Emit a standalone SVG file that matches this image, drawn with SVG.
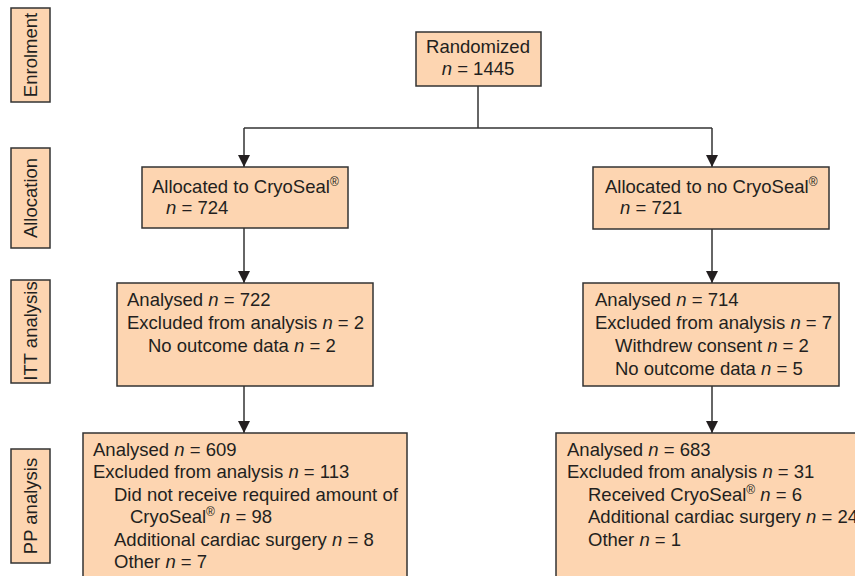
<svg xmlns="http://www.w3.org/2000/svg" width="855" height="576" viewBox="0 0 855 576">
<defs>
<style>
.box{fill:#FDD5B1;stroke:#333;stroke-width:1.5}
.t{font-family:"Liberation Sans",Arial,sans-serif;font-size:18.5px;fill:#231f20}
.i{font-style:italic}
.sup{font-size:12px}
.c{fill:none;stroke:#333;stroke-width:1.5}
</style>
<marker id="ah" markerWidth="12" markerHeight="12" viewBox="0 0 12 12" refX="12" refY="6" orient="auto" markerUnits="userSpaceOnUse">
<path d="M0,0 L12,6 L0,12 Z" fill="#231f20"/>
</marker>
</defs>
<rect width="855" height="576" fill="#fff"/>

<g id="stage-enrolment">
<rect class="box" x="11" y="8" width="39" height="94"/>
<text class="t" transform="translate(37,55) rotate(-90)" text-anchor="middle">Enrolment</text>
</g>
<g id="stage-allocation">
<rect class="box" x="11" y="148" width="39" height="100"/>
<text class="t" transform="translate(37,198) rotate(-90)" text-anchor="middle">Allocation</text>
</g>
<g id="stage-itt">
<rect class="box" x="11" y="280" width="39" height="103"/>
<text class="t" transform="translate(37,331) rotate(-90)" text-anchor="middle">ITT analysis</text>
</g>
<g id="stage-pp">
<rect class="box" x="11" y="449" width="39" height="114"/>
<text class="t" transform="translate(37,506) rotate(-90)" text-anchor="middle">PP analysis</text>
</g>

<g id="connectors">
<path class="c" d="M478,86 V128"/>
<path class="c" d="M244,128 H712"/>
<path class="c" d="M244,128 V167" marker-end="url(#ah)"/>
<path class="c" d="M712,128 V167" marker-end="url(#ah)"/>
<path class="c" d="M244,228 V283" marker-end="url(#ah)"/>
<path class="c" d="M712,229 V283" marker-end="url(#ah)"/>
<path class="c" d="M244,386 V433" marker-end="url(#ah)"/>
<path class="c" d="M712,386 V433" marker-end="url(#ah)"/>
</g>

<g id="randomized">
<rect class="box" x="416" y="32" width="125" height="54"/>
<text class="t" x="478" y="53" text-anchor="middle">Randomized</text>
<text class="t" x="478" y="75" text-anchor="middle"><tspan class="i">n</tspan> = 1445</text>
</g>

<g id="alloc-cryoseal">
<rect class="box" x="142" y="167" width="206" height="61"/>
<text class="t" x="152" y="193">Allocated to CryoSeal<tspan class="sup" dy="-7">®</tspan></text>
<text class="t" x="166" y="214"><tspan class="i">n</tspan> = 724</text>
</g>

<g id="alloc-no-cryoseal">
<rect class="box" x="593" y="167" width="236" height="62"/>
<text class="t" x="605" y="193">Allocated to no CryoSeal<tspan class="sup" dy="-7">®</tspan></text>
<text class="t" x="620" y="214"><tspan class="i">n</tspan> = 721</text>
</g>

<g id="itt-cryoseal">
<rect class="box" x="117" y="283" width="256" height="103"/>
<text class="t" x="127" y="306">Analysed <tspan class="i">n</tspan> = 722</text>
<text class="t" x="127" y="329">Excluded from analysis <tspan class="i">n</tspan> = 2</text>
<text class="t" x="148" y="352">No outcome data <tspan class="i">n</tspan> = 2</text>
</g>

<g id="itt-no-cryoseal">
<rect class="box" x="583" y="283" width="256" height="103"/>
<text class="t" x="595" y="306">Analysed <tspan class="i">n</tspan> = 714</text>
<text class="t" x="595" y="329">Excluded from analysis <tspan class="i">n</tspan> = 7</text>
<text class="t" x="615" y="352">Withdrew consent <tspan class="i">n</tspan> = 2</text>
<text class="t" x="615" y="375">No outcome data <tspan class="i">n</tspan> = 5</text>
</g>

<g id="pp-cryoseal">
<rect class="box" x="83" y="433" width="324" height="150"/>
<text class="t" x="93" y="456">Analysed <tspan class="i">n</tspan> = 609</text>
<text class="t" x="93" y="478">Excluded from analysis <tspan class="i">n</tspan> = 113</text>
<text class="t" x="114" y="501">Did not receive required amount of</text>
<text class="t" x="130" y="523">CryoSeal<tspan class="sup" dy="-7">®</tspan><tspan dy="7"> </tspan><tspan class="i">n</tspan> = 98</text>
<text class="t" x="114" y="546">Additional cardiac surgery <tspan class="i">n</tspan> = 8</text>
<text class="t" x="114" y="568">Other <tspan class="i">n</tspan> = 7</text>
</g>

<g id="pp-no-cryoseal">
<rect class="box" x="556" y="433" width="320" height="150"/>
<text class="t" x="567" y="456">Analysed <tspan class="i">n</tspan> = 683</text>
<text class="t" x="567" y="478">Excluded from analysis <tspan class="i">n</tspan> = 31</text>
<text class="t" x="588" y="501">Received CryoSeal<tspan class="sup" dy="-7">®</tspan><tspan dy="7"> </tspan><tspan class="i">n</tspan> = 6</text>
<text class="t" x="588" y="523">Additional cardiac surgery <tspan class="i">n</tspan> = 24</text>
<text class="t" x="588" y="546">Other <tspan class="i">n</tspan> = 1</text>
</g>
</svg>
